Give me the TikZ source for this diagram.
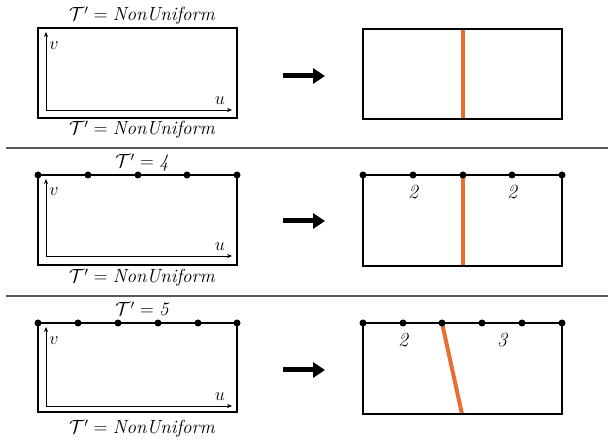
\RequirePackage{fix-cm}
\documentclass[tikz,border=0pt]{standalone}
\usepackage{amsmath}
\usepackage{fontspec}
\usetikzlibrary{arrows.meta}
\definecolor{cutorange}{HTML}{EB6E30}
\definecolor{sepgray}{HTML}{5A5A5A}
\newcommand{\lblfont}{\fontsize{19}{21}\selectfont}
\newcommand{\numfont}{\fontsize{20}{22}\selectfont\itshape}
\newcommand{\axfont}{\fontsize{18}{20}\selectfont}
\begin{document}
\begin{tikzpicture}[x=1pt,y=-1pt,
  box/.style={line width=2.6pt, line join=miter},
  thinbox/.style={line width=2.2pt},
  dot/.style={circle, fill=black, inner sep=0pt, minimum size=7pt},
  cut/.style={line width=4pt, draw=cutorange},
  axis/.style={line width=0.8pt, -{Stealth[length=5pt,width=4pt]}},
  bigarrow/.style={line width=5pt, -{Triangle[length=12pt,width=15pt]}},
  sep/.style={line width=1.6pt, draw=sepgray},
  lbl/.style={anchor=base, inner sep=0pt},
  num/.style={inner sep=0pt},
  axlbl/.style={inner sep=0pt}]
\useasboundingbox (0,0) rectangle (608,443);

% separators
\coordinate (s1a) at (6,148); \coordinate (s1b) at (608,148);
\coordinate (s2a) at (6,296); \coordinate (s2b) at (608,296);
\draw[sep] (s1a) -- (s1b);
\draw[sep] (s2a) -- (s2b);

% ---------- Row 1 ----------
\draw[box] (38,28) rectangle (237,118);
\coordinate (o1) at (46,110); \coordinate (v1) at (46,32); \coordinate (u1) at (232,110);
\draw[axis] (o1) -- (v1);
\draw[axis] (o1) -- (u1);
\node[axlbl] (v1l) at (54,46) {\axfont$v$};
\node[axlbl] (u1l) at (220,101) {\axfont$u$};
\node[lbl] (t1) at (142,21) {\lblfont$\mathcal{T}' = \text{\itshape NonUniform}$};
\node[lbl] (b1) at (142,135) {\lblfont$\mathcal{T}' = \text{\itshape NonUniform}$};
\coordinate (a1s) at (283,76); \coordinate (a1e) at (325,76);
\draw[bigarrow] (a1s) -- (a1e);
\coordinate (c1t) at (463,29); \coordinate (c1b) at (463,119);
\draw[cut] (c1t) -- (c1b);
\draw[box] (363,29) rectangle (562,119);

% ---------- Row 2 ----------
\coordinate (l2tl) at (38,175); \coordinate (l2tr) at (237,175);
\coordinate (l2bl) at (38,265); \coordinate (l2br) at (237,265);
\draw[box] (l2tl) -- (l2bl) -- (l2br) -- (l2tr) -- cycle;
\coordinate (o2) at (46,256); \coordinate (v2) at (46,179); \coordinate (u2) at (232,256);
\draw[axis] (o2) -- (v2);
\draw[axis] (o2) -- (u2);
\node[axlbl] (v2l) at (54,192) {\axfont$v$};
\node[axlbl] (u2l) at (220,247) {\axfont$u$};
\foreach \i/\x in {0/38,1/88,2/138,3/187,4/237} \node[dot] (l2d\i) at (\x,175) {};
\node[lbl] (t2) at (142,168) {\lblfont$\mathcal{T}' = \text{\itshape 4}$};
\node[lbl] (b2) at (142,283) {\lblfont$\mathcal{T}' = \text{\itshape NonUniform}$};
\coordinate (a2s) at (283,221); \coordinate (a2e) at (325,221);
\draw[bigarrow] (a2s) -- (a2e);
\coordinate (r2tl) at (363,175); \coordinate (r2tr) at (562,175);
\coordinate (r2bl) at (363,266); \coordinate (r2br) at (562,266);
\coordinate (c2b) at (463,266);
\foreach \i/\x in {0/363,1/413,2/463,3/512,4/562} \coordinate (r2c\i) at (\x,175);
\draw[cut] (r2c2) -- (c2b);
\draw[thinbox] (r2tl) -- (r2bl) -- (r2br) -- (r2tr) -- cycle;
\foreach \i/\x in {0/363,1/413,2/463,3/512,4/562} \node[dot] (r2d\i) at (\x,175) {};
\node[num] (n21) at (413,192) {\numfont 2};
\node[num] (n22) at (512,192) {\numfont 2};

% ---------- Row 3 ----------
\coordinate (l3tl) at (38,323); \coordinate (l3tr) at (237,323);
\coordinate (l3bl) at (38,412); \coordinate (l3br) at (237,412);
\draw[box] (l3tl) -- (l3bl) -- (l3br) -- (l3tr) -- cycle;
\coordinate (o3) at (46,406); \coordinate (v3) at (46,327); \coordinate (u3) at (232,406);
\draw[axis] (o3) -- (v3);
\draw[axis] (o3) -- (u3);
\node[axlbl] (v3l) at (54,341) {\axfont$v$};
\node[axlbl] (u3l) at (220,397) {\axfont$u$};
\foreach \i/\x in {0/38,1/78,2/118,3/158,4/198,5/237} \node[dot] (l3d\i) at (\x,323) {};
\node[lbl] (t3) at (142,316) {\lblfont$\mathcal{T}' = \text{\itshape 5}$};
\node[lbl] (b3) at (142,434) {\lblfont$\mathcal{T}' = \text{\itshape NonUniform}$};
\coordinate (a3s) at (283,370); \coordinate (a3e) at (325,370);
\draw[bigarrow] (a3s) -- (a3e);
\coordinate (r3tl) at (363,323); \coordinate (r3tr) at (562,323);
\coordinate (r3bl) at (363,414); \coordinate (r3br) at (562,414);
\coordinate (c3b) at (462,414);
\foreach \i/\x in {0/363,1/403,2/442,3/482,4/522,5/562} \coordinate (r3c\i) at (\x,323);
\draw[cut] (r3c2) -- (c3b);
\draw[thinbox] (r3tl) -- (r3bl) -- (r3br) -- (r3tr) -- cycle;
\foreach \i/\x in {0/363,1/403,2/442,3/482,4/522,5/562} \node[dot] (r3d\i) at (\x,323) {};
\node[num] (n31) at (403,340) {\numfont 2};
\node[num] (n32) at (502,340) {\numfont 3};
\end{tikzpicture}
\end{document}
